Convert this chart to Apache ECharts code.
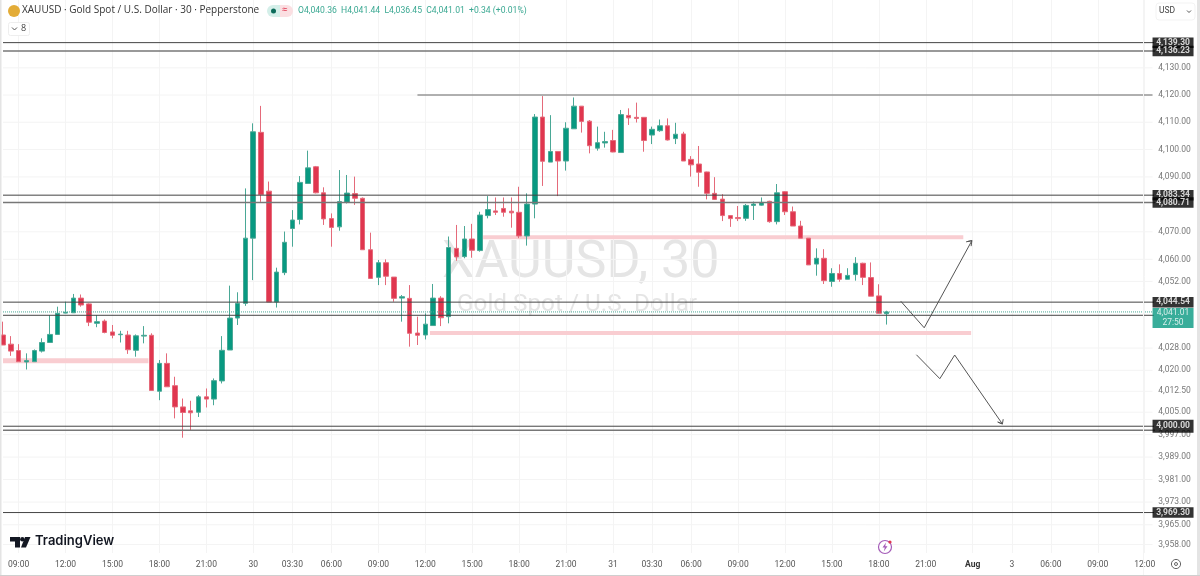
<!DOCTYPE html>
<html><head><meta charset="utf-8">
<style>html,body{margin:0;padding:0;background:#fff}#c{width:1200px;height:576px;filter:blur(0.4px)}</style>
<script src="https://cdn.jsdelivr.net/npm/echarts@6/dist/echarts.min.js"></script>
</head><body><div id="c"></div>
<script>
// ---- data ----
const opens=[4032.7,4029.4,4027.1,4023.0,4023.1,4026.9,4030.0,4032.9,4040.6,4040.7,4046.0,4043.9,4036.9,4037.7,4033.8,4032.8,4032.7,4027.2,4032.3,4032.6,4012.5,4022.5,4014.5,4006.9,4005.5,4005.0,4010.5,4009.7,4016.2,4027.3,4038.8,4044.1,4067.7,4106.3,4084.8,4044.6,4055.2,4071.2,4074.5,4087.6,4093.7,4084.2,4074.8,4071.8,4080.7,4083.9,4082.2,4063.5,4053.5,4058.8,4053.6,4046.0,4045.9,4033.4,4032.7,4036.1,4046.0,4039.3,4064.0,4061.0,4067.4,4063.2,4075.9,4077.6,4078.5,4077.5,4077.1,4068.5,4080.1,4111.9,4095.4,4099.3,4095.8,4107.6,4115.9,4110.4,4100.5,4102.4,4103.3,4098.9,4112.5,4111.8,4111.8,4105.3,4106.9,4108.7,4104.0,4105.7,4096.4,4094.7,4091.8,4084.0,4081.9,4075.9,4075.2,4074.9,4079.6,4079.7,4081.1,4073.7,4084.6,4077.3,4072.1,4067.7,4058.3,4060.4,4052.0,4054.9,4052.8,4054.5,4058.6,4053.4,4046.8,4040.36];
const closes=[4029.1,4026.9,4023.1,4023.5,4027.1,4030.0,4032.9,4040.5,4040.9,4046.0,4043.5,4037.3,4037.5,4033.6,4032.6,4033.0,4027.4,4032.4,4032.6,4012.8,4022.5,4014.1,4006.9,4004.9,4004.8,4010.5,4009.7,4016.3,4027.2,4038.8,4044.1,4067.7,4106.5,4083.6,4044.6,4055.4,4066.2,4074.3,4088.0,4093.3,4084.2,4074.7,4071.6,4081.0,4084.1,4082.2,4063.5,4053.1,4058.8,4053.9,4045.9,4046.5,4033.3,4032.6,4036.6,4046.0,4038.9,4064.3,4060.9,4067.4,4063.3,4076.1,4078.1,4077.1,4077.1,4076.9,4068.5,4080.1,4111.9,4095.7,4099.3,4095.8,4107.8,4115.9,4110.3,4101.4,4102.5,4102.9,4099.1,4112.8,4111.6,4111.4,4103.3,4107.4,4108.7,4103.5,4105.6,4095.8,4094.4,4091.7,4084.0,4081.8,4075.9,4074.8,4074.8,4079.6,4080.1,4080.7,4073.7,4084.2,4077.3,4072.1,4067.7,4058.0,4060.4,4052.3,4054.9,4052.8,4054.2,4058.6,4053.5,4046.7,4040.5,4041.01];
const lows=[4029.1,4025.2,4023.1,4020.3,4023.1,4026.4,4030.0,4032.9,4040.5,4040.7,4042.9,4035.9,4035.5,4033.3,4031.5,4030.0,4025.9,4024.9,4029.7,4012.8,4009.3,4014.1,4002.8,3995.9,3998.3,4003.3,4006.7,4007.5,4015.3,4027.3,4036.3,4043.2,4052.5,4080.9,4044.6,4042.6,4054.3,4064.6,4072.7,4087.6,4084.0,4072.5,4064.6,4070.4,4080.3,4079.8,4063.5,4052.9,4050.7,4050.7,4044.7,4037.5,4028.5,4029.1,4031.1,4036.1,4035.9,4036.9,4059.5,4060.4,4060.6,4062.8,4074.9,4076.1,4075.5,4071.5,4067.7,4065.0,4074.9,4086.7,4095.4,4083.0,4092.3,4107.6,4106.2,4098.6,4099.6,4100.7,4099.0,4098.9,4109.0,4109.9,4099.2,4102.0,4106.5,4103.3,4102.0,4095.8,4090.1,4086.4,4081.8,4081.6,4073.9,4071.8,4073.9,4074.0,4074.3,4079.5,4073.3,4072.7,4076.1,4072.1,4067.7,4058.0,4054.1,4051.1,4050.1,4051.9,4052.8,4052.3,4050.7,4046.7,4040.5,4036.45];
const highs=[4037.5,4032.3,4029.4,4026.1,4027.5,4031.5,4039.9,4042.9,4044.7,4047.5,4047.3,4044.1,4039.9,4038.3,4036.3,4034.2,4034.2,4032.9,4035.9,4033.3,4023.7,4026.1,4017.7,4009.9,4009.1,4011.1,4013.5,4017.1,4032.3,4050.5,4048.1,4085.8,4109.6,4116.0,4088.3,4057.0,4070.1,4077.9,4090.3,4099.6,4094.0,4086.2,4076.7,4092.5,4090.7,4090.1,4082.5,4069.7,4059.8,4060.0,4053.6,4047.1,4050.7,4039.3,4040.5,4051.1,4046.7,4068.3,4072.5,4072.1,4072.9,4077.3,4083.0,4082.5,4082.5,4082.5,4086.4,4084.0,4113.0,4119.6,4112.6,4099.3,4110.0,4119.1,4115.9,4110.8,4108.4,4106.5,4107.2,4114.5,4115.1,4117.2,4111.8,4108.4,4111.0,4111.4,4109.8,4106.5,4097.6,4101.3,4091.9,4089.9,4083.7,4075.9,4079.4,4080.1,4081.0,4082.5,4081.3,4087.4,4084.8,4079.2,4074.0,4067.7,4064.0,4063.7,4056.8,4058.2,4056.8,4060.8,4058.8,4058.9,4051.0,4041.44];
const slotCount=148;
const timeSlots=[2,8,14,20,26,32,37,42,48,54,60,66,72,78,83,88,94,100,106,112,118,124,129,134,140,146];
const timeLabels=['09:00','12:00','15:00','18:00','21:00','30','03:30','06:00','09:00','12:00','15:00','18:00','21:00','31','03:30','06:00','09:00','12:00','15:00','18:00','21:00','Aug','3','06:00','09:00','12:00'];
const priceTicks=[4130,4120,4110,4100,4090,4070,4060,4052,4028,4020,4012.5,4005,3997,3989,3981,3973,3965,3958];
const taggedLevels=[4139.30,4136.23,4083.34,4080.71,4044.54,4000.00,3969.30];
const softLevels=[4136.23,4080.71,3998.6];
const plainLevels=[4039.8,3998.6];
const lastPrice=4041.01, lastCountdown='27:50';
const resistance=[[53,4120],[147,4120]];
const zoneLow=[[0,4023.4],[18.6,4023.4]];
const zoneHigh=[[61.4,4068.0],[122.8,4068.0]];
const zoneMid=[[54.6,4033.4],[123.8,4033.4]];
const arrowUp=[[114.8,4044.9],[117.8,4035.3],[123.9,4066.8],[123.2,4066.4],[123.9,4066.8],[123.8,4064.8]];
const arrowDown=[[116.8,4025.6],[119.8,4017.0],[121.7,4025.5],[127.8,4000.8],[127.2,4001.5],[127.8,4000.8],[127.9,4002.5]];

const UP='#089981',DOWN='#e0364f',AXISFONT='Roboto';
const categories=Array.from({length:slotCount},(_,i)=>{const k=timeSlots.indexOf(i);return k>=0?timeLabels[k]:'';});
const fmt=v=>v.toLocaleString('en-US',{minimumFractionDigits:2,maximumFractionDigits:2});
const hasLabel=(i,v)=>v!=='';
function seg(data,color,width,z,type){return {type:'line',xAxisIndex:1,data,showSymbol:false,silent:true,z,
  lineStyle:{color,width,type:type||'solid'},clip:false,animation:false};}

const series=[
  ...priceTicks.map(p=>seg([[0,p],[147,p]],'#f4f4f4',1,0)),
  seg(zoneLow,'#f9cdd1',5,1),seg(zoneHigh,'#f9cdd1',4,1),seg(zoneMid,'#f9cdd1',4,1),
  {type:'candlestick',xAxisIndex:0,barWidth:5,clip:false,z:2,silent:true,animation:false,
   data:opens.map((o,i)=>[o,closes[i],lows[i],highs[i]]),
   itemStyle:{color:UP,color0:DOWN,borderColor:'#4aa896',borderColor0:'#e56a7a',borderWidth:1}},
  ...taggedLevels.concat(plainLevels).map(p=>softLevels.includes(p)?seg([[0,p],[147.4,p]],'#777',1.5,3):seg([[0,p],[147.4,p]],'#444',1,3)),
  seg(resistance,'#666',1,3),
  seg([[0,lastPrice],[147,lastPrice]],'#4aa896',1,3,'dotted'),
  seg(arrowUp,'#555',1,3),seg(arrowDown,'#555',1,3),
  {type:'scatter',xAxisIndex:1,symbolSize:0,silent:true,clip:false,z:4,animation:false,
   data:priceTicks.map(p=>[147,p]),
   label:{show:true,position:'right',distance:0,formatter:q=>'{n|'+fmt(q.value[1])+'}',
     rich:{n:{width:44,height:10,align:'center',fontFamily:AXISFONT,fontSize:8.5,color:'#555'}}}},
  {type:'scatter',xAxisIndex:1,symbolSize:0,silent:true,clip:false,z:5,animation:false,
   data:taggedLevels.map(p=>[147,p]),
   label:{show:true,position:'right',distance:0,formatter:q=>(q.value[1]===4000?'{b|':'{t|')+fmt(q.value[1])+'}',
     rich:{t:{width:41,height:10.5,lineHeight:10.5,align:'center',backgroundColor:'#000',fontFamily:AXISFONT,fontSize:8.5,fontWeight:'bold',color:'#fff'},
           b:{width:41,height:13,lineHeight:13,align:'center',backgroundColor:'#000',fontFamily:AXISFONT,fontSize:8.5,fontWeight:'bold',color:'#fff'}}}},
  {type:'scatter',xAxisIndex:1,symbolSize:0,silent:true,clip:false,z:6,animation:false,
   data:[[147,lastPrice]],
   label:{show:true,position:'right',distance:0,verticalAlign:'top',offset:[0,-4],backgroundColor:UP,
     formatter:q=>'{c|'+fmt(q.value[1])+'}\n{c|'+lastCountdown+'}',
     rich:{c:{width:41,height:10,lineHeight:10,align:'center',fontFamily:AXISFONT,fontSize:8.5,color:'#fff'}}}}
];

const gray='#e4e4e4';
const graphic=[
 {type:'text',z:-1,x:442,y:238,style:{text:'XAUUSD, 30',font:'52px Roboto',fill:'#e5e5e5'}},
 {type:'text',z:-1,x:457,y:293,style:{text:'Gold Spot / U.S. Dollar',font:'24.3px Roboto',fill:'#e5e5e5'}},
 {type:'rect',shape:{x:0,y:0,width:1.5,height:576},style:{fill:gray}},
 {type:'rect',shape:{x:1197,y:0,width:3,height:576},style:{fill:gray}},
 {type:'rect',shape:{x:0,y:575,width:1200,height:1},style:{fill:'#cfcfcf'}},
 {type:'line',shape:{x1:1143.5,y1:0,x2:1143.5,y2:575},style:{stroke:'#f4f4f4',lineWidth:1}},
 {type:'circle',shape:{cx:14,cy:11,r:6},style:{fill:'#e3ac37'}},
 {type:'text',x:22,y:5,style:{text:'XAUUSD · Gold Spot / U.S. Dollar · 30 · Pepperstone',font:'10px "Open Sans"',fill:'#333'}},
 {type:'rect',shape:{x:267,y:5,width:13,height:12,r:[6,0,0,6]},style:{fill:'#d4efe9'}},
 {type:'rect',shape:{x:280,y:5,width:13,height:12,r:[0,6,6,0]},style:{fill:'#fbdfe2'}},
 {type:'circle',shape:{cx:273.5,cy:11,r:2.5},style:{fill:'#0b6b5a'}},
 {type:'text',x:282,y:5,style:{text:'≈',font:'10px "Open Sans"',fill:'#e0364f'}},
 {type:'text',x:298,y:6.5,style:{text:'O4,040.36  H4,041.44  L4,036.45  C4,041.01  +0.34 (+0.01%)',font:'8.6px Roboto',fill:'#3aa892'}},
 {type:'rect',shape:{x:8.5,y:22.5,width:21,height:13,r:2},style:{fill:'#fff',stroke:'#eee'}},
 {type:'polyline',shape:{points:[[12,27.5],[14.5,30],[17,27.5]]},style:{stroke:'#555',fill:null,lineWidth:1}},
 {type:'text',x:21,y:24,style:{text:'8',font:'9px "Open Sans"',fill:'#444'}},
 {type:'rect',shape:{x:1156,y:3,width:39,height:17,r:3},style:{fill:'#fff',stroke:'#f3f3f3'}},
 {type:'text',x:1159,y:6,style:{text:'USD',font:'8.5px Roboto',fill:'#444'}},
 {type:'polyline',shape:{points:[[1187,10.5],[1189,12.5],[1191,10.5]]},style:{stroke:'#555',fill:null,lineWidth:1}},
 {type:'polygon',shape:{points:[[10,537],[20,537],[20,547.5],[15,547.5],[15,541.5],[10,541.5]]},style:{fill:'#131722'}},
 {type:'circle',shape:{cx:22.3,cy:539.2,r:2.2},style:{fill:'#131722'}},
 {type:'polygon',shape:{points:[[25,537],[30.5,537],[26,547.5],[21,547.5]]},style:{fill:'#131722'}},
 {type:'text',x:35,y:535,style:{text:'TradingView',font:'600 13px Inter',fill:'#131722'}},
 {type:'circle',shape:{cx:885,cy:547,r:6.5},style:{fill:'#fff',stroke:'#a45bb8',lineWidth:1.2}},
 {type:'polygon',shape:{points:[[886,542.5],[882.5,547.5],[884.8,547.5],[883.8,551.5],[887.5,546.3],[885.2,546.3]]},style:{fill:'#a45bb8'}},
 {type:'circle',shape:{cx:890,cy:542,r:1.6},style:{fill:'#e0364f'}},
 {type:'circle',shape:{cx:1176,cy:564,r:4.6},style:{fill:'#fff',stroke:'#666',lineWidth:1}},
 {type:'circle',shape:{cx:1176,cy:564,r:1.5},style:{fill:'#fff',stroke:'#666',lineWidth:1}}
].map((e,i)=>e.z===undefined?Object.assign(e,{z:20+i}):e);

const chart=echarts.init(document.getElementById('c'),null,{renderer:'canvas'});
chart.setOption({
 animation:false,backgroundColor:'#fff',
 grid:{left:3,top:0,right:47.46,bottom:23},
 xAxis:[
  {type:'category',data:categories,boundaryGap:false,
   axisLine:{show:false},axisTick:{show:false},
   splitLine:{show:true,interval:hasLabel,lineStyle:{color:'#f4f4f4',width:1}},
   axisLabel:{interval:hasLabel,hideOverlap:false,showMinLabel:true,showMaxLabel:true,margin:7,fontFamily:AXISFONT,fontSize:8.5,color:'#555',
     formatter:v=>v==='Aug'?'{b|Aug}':v,rich:{b:{fontFamily:AXISFONT,fontSize:8.5,fontWeight:'bold',color:'#333'}}}},
  {type:'value',min:0,max:147,show:false,splitLine:{show:false}}
 ],
 yAxis:{type:'log',min:3955.0,max:4155.08,position:'right',
  axisLine:{show:false},axisTick:{show:false},axisLabel:{show:false},splitLine:{show:false},minorTick:{show:false}},
 graphic:{elements:graphic.map(e=>e),z:10},series
});
</script></body></html>
